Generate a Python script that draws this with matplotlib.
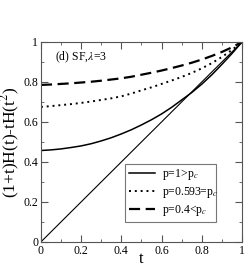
import matplotlib
matplotlib.use('Agg')
import matplotlib.pyplot as plt
from matplotlib.ticker import MultipleLocator

t = [0.0, 0.05, 0.1, 0.15, 0.2, 0.25, 0.3, 0.35, 0.4, 0.45, 0.5,
     0.55, 0.6, 0.65, 0.7, 0.75, 0.8, 0.85, 0.9, 0.95, 1.0]
p_above = [0.457, 0.46, 0.465, 0.472, 0.48, 0.491, 0.505, 0.521, 0.54, 0.561, 0.585,
           0.611, 0.64, 0.673, 0.71, 0.747, 0.789, 0.836, 0.888, 0.942, 1.0]
p_crit = [0.675, 0.679, 0.684, 0.689, 0.695, 0.702, 0.71, 0.718, 0.728, 0.742, 0.758,
          0.773, 0.79, 0.807, 0.825, 0.845, 0.868, 0.894, 0.925, 0.96, 1.0]
p_below = [0.785, 0.787, 0.79, 0.793, 0.797, 0.801, 0.806, 0.812, 0.818, 0.826, 0.836,
           0.846, 0.857, 0.869, 0.882, 0.896, 0.912, 0.93, 0.95, 0.973, 1.0]
labels = ['p=1>p$_c$', 'p=0.593=p$_c$', 'p=0.4<p$_c$']

plt.rcParams['font.family'] = 'Liberation Serif'
plt.rcParams['mathtext.fontset'] = 'stix'

fig = plt.figure(figsize=(2.45, 2.67), dpi=100)
ax = fig.add_axes([0.167, 0.094, 0.821, 0.749])

ax.plot(t, t, color='black', lw=0.8)
ax.plot(t, p_above, color='black', lw=1.1, label=labels[0])
ax.plot(t, p_crit, color='black', lw=1.4, linestyle=(0, (1, 2)), label=labels[1])
ax.plot(t, p_below, color='black', lw=1.6, linestyle=(0, (5, 2.5)), label=labels[2])

ax.set_xlim(0, 1)
ax.set_ylim(0, 1)
ax.xaxis.set_major_locator(MultipleLocator(0.2))
ax.yaxis.set_major_locator(MultipleLocator(0.2))
ax.xaxis.set_minor_locator(MultipleLocator(0.1))
ax.yaxis.set_minor_locator(MultipleLocator(0.1))
ax.xaxis.set_major_formatter(plt.FuncFormatter(lambda v, p: '%g' % v))
ax.yaxis.set_major_formatter(plt.FuncFormatter(lambda v, p: '%g' % v))
ax.tick_params(which='both', direction='in', top=True, right=True,
               colors='#555555', labelcolor='black', labelsize=8.5, pad=2)
ax.tick_params(which='major', length=5)
ax.tick_params(which='minor', length=2.5)
for s in ax.spines.values():
    s.set_color('#555555')
    s.set_linewidth(0.8)

ax.set_xlabel('t', fontsize=12, labelpad=-4)
ax.set_ylabel('(1+t)H(t)-tH(t$^2$)', fontsize=12.5, labelpad=1)
ax.text(0.07, 0.925, '(d) SF,$\\lambda$=3', transform=ax.transAxes, fontsize=8.5, va='center')

leg = ax.legend(loc='lower left', bbox_to_anchor=(0.418, 0.1, 0.453, 0.26), mode='expand',
                fontsize=8.5, frameon=True, fancybox=False, handlelength=2.2,
                borderpad=0.3, labelspacing=0.25, handletextpad=0.6, borderaxespad=0)
leg.get_frame().set_edgecolor('#555555')
leg.get_frame().set_linewidth(0.8)

fig.savefig('out.png', dpi=100)
